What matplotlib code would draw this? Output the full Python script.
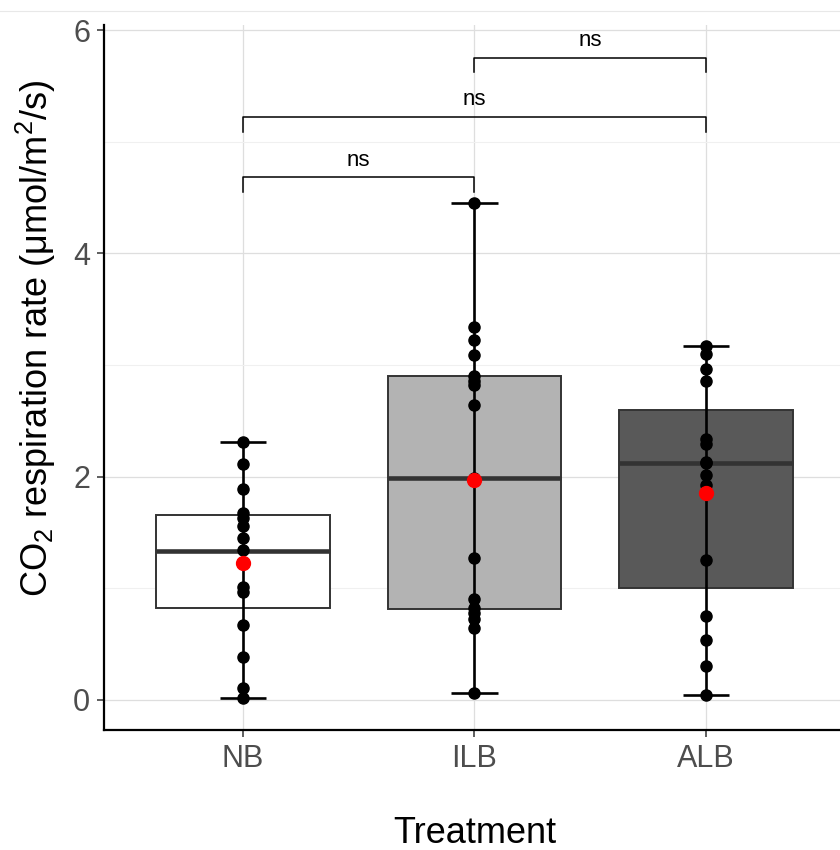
import numpy as np
import matplotlib.pyplot as plt
from matplotlib.lines import Line2D

plt.rcParams['font.family'] = ['Liberation Sans', 'DejaVu Sans']
plt.rcParams['mathtext.fontset'] = 'custom'
plt.rcParams['mathtext.rm'] = 'Liberation Sans'

# data
groups = ['NB', 'ILB', 'ALB']
nb_vals = [2.31, 2.11, 1.89, 1.67, 1.63, 1.56, 1.45, 1.34, 1.01, 0.97, 0.67, 0.38, 0.11, 0.02]
ilb_vals = [4.45, 3.34, 3.22, 3.09, 2.90, 2.86, 2.82, 2.64, 1.99, 1.27, 0.90, 0.82, 0.78, 0.72, 0.64, 0.06]
alb_vals = [3.17, 3.10, 2.96, 2.86, 2.34, 2.29, 2.13, 2.12, 2.01, 1.92, 1.25, 0.75, 0.54, 0.30, 0.04]
q1 = [0.82, 0.81, 1.00]
medians = [1.33, 1.99, 2.12]
q3 = [1.66, 2.90, 2.60]
means = [1.23, 1.97, 1.85]
box_colors = ['#FFFFFF', '#B3B3B3', '#595959']

comparisons = [(0, 1), (0, 2), (1, 2)]
bracket_y = [4.68, 5.22, 5.75]
bracket_labels = ['ns', 'ns', 'ns']
tip = 0.13

all_vals = [nb_vals, ilb_vals, alb_vals]
pos = np.arange(1, len(groups) + 1)

fig = plt.figure(figsize=(8.4, 8.5), dpi=100)
ax = fig.add_axes([0.1238, 0.1412, 0.8819, 0.8294])

# boxes
stats = []
for i in range(len(groups)):
    stats.append({'med': medians[i], 'q1': q1[i], 'q3': q3[i],
                  'whislo': q1[i], 'whishi': q3[i], 'fliers': []})
bp = ax.bxp(stats, positions=pos, widths=0.75, patch_artist=True, showcaps=False,
            manage_ticks=False,
            boxprops=dict(edgecolor='#333333', linewidth=1.4),
            whiskerprops=dict(linewidth=0),
            medianprops=dict(color='#333333', linewidth=3.3, solid_capstyle='butt'))
for patch, c in zip(bp['boxes'], box_colors):
    patch.set_facecolor(c)
    patch.set_zorder(2)
for m in bp['medians']:
    m.set_zorder(2.5)

# min-max error bars and points
for i, vals in enumerate(all_vals):
    lo, hi = min(vals), max(vals)
    ax.vlines(pos[i], lo, hi, color='black', lw=1.9, zorder=3)
    ax.hlines([lo, hi], pos[i] - 0.1, pos[i] + 0.1, color='black', lw=1.9, zorder=3)
    ax.plot([pos[i]] * len(vals), vals, 'o', color='black', ms=8, zorder=4)
ax.plot(pos, means, 'o', color='#FF0000', ms=10, zorder=5)

# significance brackets
for (a, b), yb, lab in zip(comparisons, bracket_y, bracket_labels):
    xa, xb = pos[a], pos[b]
    ax.plot([xa, xa, xb, xb], [yb - tip, yb, yb, yb - tip], color='black', lw=1.1, zorder=3)
    ax.text((xa + xb) / 2, yb + 0.06, lab, ha='center', va='bottom', fontsize=16)

# grid and ticks
ax.set_yticks([0, 2, 4, 6])
ax.set_yticks([1, 3, 5], minor=True)
ax.set_xticks(pos)
ax.set_xticklabels(groups)
ax.grid(which='major', color='#DEDEDE', lw=0.9)
ax.grid(which='minor', axis='y', color='#F0F0F0', lw=0.8)
ax.set_axisbelow(True)

ax.set_xlim(0.4, 3.6)
ax.set_ylim(-0.27, 6.045)

for s in ['top', 'right']:
    ax.spines[s].set_visible(False)
for s in ['left', 'bottom']:
    ax.spines[s].set_linewidth(1.6)
    ax.spines[s].set_color('black')
ax.tick_params(which='major', length=5, width=1.1, color='#333333', labelsize=22,
               labelcolor='#4D4D4D', pad=5)
ax.tick_params(which='minor', length=0)

ax.set_xlabel('Treatment', fontsize=26, labelpad=30)
ax.set_ylabel(r'CO$_\mathregular{2}$ respiration rate ($\mathregular{\mu}$mol/m$^\mathregular{2}$/s)',
              fontsize=26)
ax.yaxis.set_label_coords(-0.062, 0.555)

fig.add_artist(Line2D([0, 1], [1 - 11 / 850, 1 - 11 / 850], color='#E8E8E8', lw=0.8))

fig.savefig('out.png', dpi=100)
